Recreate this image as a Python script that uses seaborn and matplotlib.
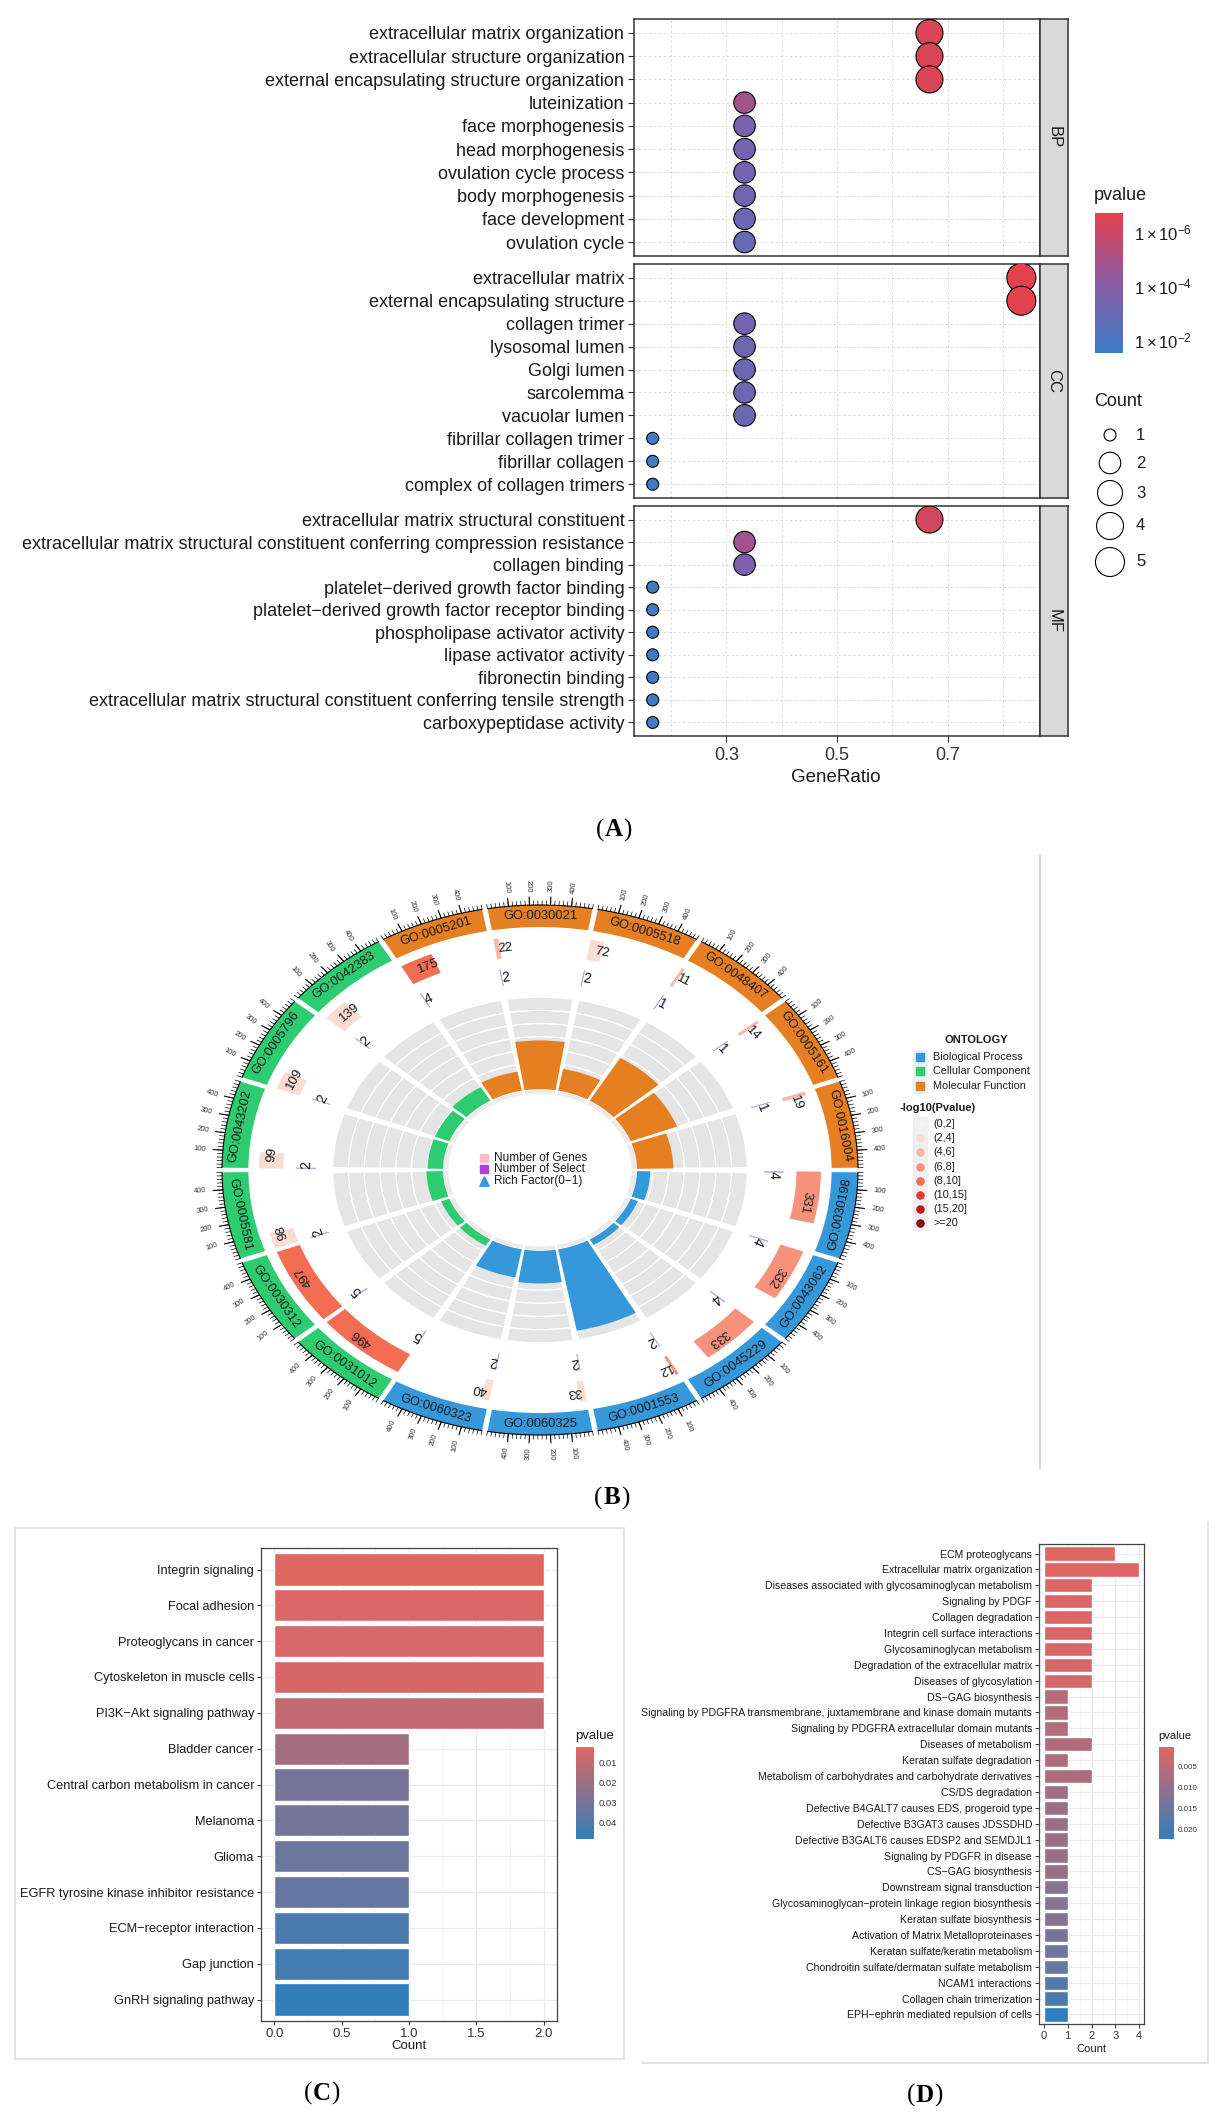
import numpy as np
import pandas as pd
import matplotlib
matplotlib.use("Agg")
import matplotlib.pyplot as plt
import seaborn as sns
from matplotlib.colors import LinearSegmentedColormap, Normalize
from matplotlib.cm import ScalarMappable
from matplotlib.patches import Rectangle

sns.set_style("white")
plt.rcParams["font.family"] = ["Liberation Sans", "DejaVu Sans"]
plt.rcParams["mathtext.fontset"] = "custom"
plt.rcParams["mathtext.rm"] = "Liberation Sans"
plt.rcParams["mathtext.it"] = "Liberation Sans:italic"

W, H = 1221, 2117

# ---------------- data: panel A (GO dotplot) ----------------
bp_terms = ["extracellular matrix organization", "extracellular structure organization",
            "external encapsulating structure organization", "luteinization", "face morphogenesis",
            "head morphogenesis", "ovulation cycle process", "body morphogenesis",
            "face development", "ovulation cycle"]
bp_ratio = [0.667, 0.667, 0.667, 0.333, 0.333, 0.333, 0.333, 0.333, 0.333, 0.333]
bp_count = [4, 4, 4, 2, 2, 2, 2, 2, 2, 2]
bp_p = [4e-7, 4e-7, 4e-7, 1.5e-5, 2.5e-4, 3.5e-4, 4.5e-4, 5.5e-4, 8e-4, 1.2e-3]

cc_terms = ["extracellular matrix", "external encapsulating structure", "collagen trimer",
            "lysosomal lumen", "Golgi lumen", "sarcolemma", "vacuolar lumen",
            "fibrillar collagen trimer", "fibrillar collagen", "complex of collagen trimers"]
cc_ratio = [0.833, 0.833, 0.333, 0.333, 0.333, 0.333, 0.333, 0.167, 0.167, 0.167]
cc_count = [5, 5, 2, 2, 2, 2, 2, 1, 1, 1]
cc_p = [2e-7, 2e-7, 3.5e-4, 6e-4, 7e-4, 8e-4, 1e-3, 0.02, 0.02, 0.022]

mf_terms = ["extracellular matrix structural constituent",
            "extracellular matrix structural constituent conferring compression resistance",
            "collagen binding", "platelet\u2212derived growth factor binding",
            "platelet\u2212derived growth factor receptor binding", "phospholipase activator activity",
            "lipase activator activity", "fibronectin binding",
            "extracellular matrix structural constituent conferring tensile strength",
            "carboxypeptidase activity"]
mf_ratio = [0.667, 0.333, 0.333, 0.167, 0.167, 0.167, 0.167, 0.167, 0.167, 0.167]
mf_count = [4, 2, 2, 1, 1, 1, 1, 1, 1, 1]
mf_p = [8e-7, 2e-5, 2.5e-4, 0.02, 0.02, 0.021, 0.021, 0.022, 0.023, 0.024]

count_levels = [1, 2, 3, 4, 5]

# ---------------- data: panel B (GO circle) ----------------
go_ids = ["GO:0030198", "GO:0043062", "GO:0045229", "GO:0001553", "GO:0060325", "GO:0060323",
          "GO:0031012", "GO:0030312", "GO:0005581", "GO:0043202", "GO:0005796", "GO:0042383",
          "GO:0005201", "GO:0030021", "GO:0005518", "GO:0048407", "GO:0005161", "GO:0016004"]
go_onto = ["BP"] * 6 + ["CC"] * 6 + ["MF"] * 6
gene_num = [331, 332, 333, 12, 33, 40, 496, 497, 98, 99, 109, 139, 175, 22, 72, 11, 14, 19]
select_num = [4, 4, 4, 2, 2, 2, 5, 5, 2, 2, 2, 2, 4, 2, 2, 1, 1, 1]
gene_level = [3, 3, 3, 3, 1, 1, 4, 4, 1, 1, 1, 1, 4, 2, 1, 2, 2, 2]
rich_track = [0.12, 0.07, 0.07, 0.90, 0.355, 0.31, 0.08, 0.08, 0.15, 0.14, 0.14, 0.17,
              0.21, 0.53, 0.24, 0.54, 0.45, 0.33]
ruler_ticks = [100, 200, 300, 400]
logp_levels = ["(0,2]", "(2,4]", "(4,6]", "(6,8]", "(8,10]", "(10,15]", "(15,20]", ">=20"]
logp_colors = ["#F3F3F3", "#FBDCD2", "#F9B7AA", "#F6917B", "#F36D52", "#E8372D", "#C4161C", "#8B0A0F"]
onto_names = ["Biological Process", "Cellular Component", "Molecular Function"]

# ---------------- data: panel C (KEGG bar) ----------------
c_terms = ["Integrin signaling", "Focal adhesion", "Proteoglycans in cancer",
           "Cytoskeleton in muscle cells", "PI3K\u2212Akt signaling pathway", "Bladder cancer",
           "Central carbon metabolism in cancer", "Melanoma", "Glioma",
           "EGFR tyrosine kinase inhibitor resistance", "ECM\u2212receptor interaction",
           "Gap junction", "GnRH signaling pathway"]
c_count = [2, 2, 2, 2, 2, 1, 1, 1, 1, 1, 1, 1, 1]
c_p = [0.0025, 0.004, 0.0045, 0.005, 0.0105, 0.018, 0.030, 0.031, 0.033, 0.035, 0.042, 0.044, 0.0485]

# ---------------- data: panel D (Reactome bar) ----------------
d_terms = ["ECM proteoglycans", "Extracellular matrix organization",
           "Diseases associated with glycosaminoglycan metabolism", "Signaling by PDGF",
           "Collagen degradation", "Integrin cell surface interactions",
           "Glycosaminoglycan metabolism", "Degradation of the extracellular matrix",
           "Diseases of glycosylation", "DS\u2212GAG biosynthesis",
           "Signaling by PDGFRA transmembrane, juxtamembrane and kinase domain mutants",
           "Signaling by PDGFRA extracellular domain mutants", "Diseases of metabolism",
           "Keratan sulfate degradation", "Metabolism of carbohydrates and carbohydrate derivatives",
           "CS/DS degradation", "Defective B4GALT7 causes EDS, progeroid type",
           "Defective B3GAT3 causes JDSSDHD", "Defective B3GALT6 causes EDSP2 and SEMDJL1",
           "Signaling by PDGFR in disease", "CS\u2212GAG biosynthesis",
           "Downstream signal transduction",
           "Glycosaminoglycan\u2212protein linkage region biosynthesis",
           "Keratan sulfate biosynthesis", "Activation of Matrix Metalloproteinases",
           "Keratan sulfate/keratin metabolism", "Chondroitin sulfate/dermatan sulfate metabolism",
           "NCAM1 interactions", "Collagen chain trimerization",
           "EPH\u2212ephrin mediated repulsion of cells"]
d_count = [3, 4, 2, 2, 2, 2, 2, 2, 2, 1, 1, 1, 2, 1, 2, 1, 1, 1, 1, 1, 1, 1, 1, 1, 1, 1, 1, 1, 1, 1]
d_p = [0.0002, 0.0005, 0.001, 0.0012, 0.0013, 0.0015, 0.0018, 0.002, 0.002, 0.0055,
       0.0058, 0.006, 0.0062, 0.0065, 0.007, 0.0085, 0.0088, 0.009, 0.009, 0.0092,
       0.0095, 0.0115, 0.0118, 0.012, 0.0135, 0.0145, 0.0155, 0.018, 0.019, 0.0224]

# ---------------- figure helpers ----------------
fig = plt.figure(figsize=(W / 100, H / 100), dpi=100)
fig.patch.set_facecolor("white")


def px_axes(l, t, r, b, **kw):
    return fig.add_axes([l / W, 1 - b / H, (r - l) / W, (b - t) / H], **kw)


ov = fig.add_axes([0, 0, 1, 1], zorder=5)
ov.set_xlim(0, W)
ov.set_ylim(H, 0)
ov.set_axis_off()
ov.patch.set_visible(False)

DARK = "#1A1A1A"

# ================= panel A =================
cmap_a = LinearSegmentedColormap.from_list("a", ["#3D7CC6", "#8A5AA4", "#E4414E"])
norm_a = Normalize(1.52, 6.7)
size_map = {1: 74, 2: 240, 3: 324, 4: 378, 5: 436}

facets = [("BP", bp_terms, bp_ratio, bp_count, bp_p, 19, 256),
          ("CC", cc_terms, cc_ratio, cc_count, cc_p, 264, 498),
          ("MF", mf_terms, mf_ratio, mf_count, mf_p, 506, 736)]
for k, (name, terms, ratio, count, pv, top, bot) in enumerate(facets):
    ax = px_axes(634, top, 1040, bot)
    d = pd.DataFrame({"term": terms, "GeneRatio": ratio, "Count": count,
                      "logp": -np.log10(pv)})
    sns.scatterplot(data=d, x="GeneRatio", y="term", hue="logp", hue_norm=norm_a,
                    palette=cmap_a, size="Count", sizes=size_map, edgecolor="black",
                    linewidth=0.8, legend=False, ax=ax, zorder=3)
    ax.set_xlim(0.1333, 0.8667)
    ax.set_ylim(len(terms) - 0.4, -0.6)
    ax.set_xticks([0.3, 0.5, 0.7])
    ax.set_xticks([0.2, 0.4, 0.6, 0.8], minor=True)
    ax.set_xticklabels(["0.3", "0.5", "0.7"])
    ax.set_axisbelow(True)
    ax.grid(True, which="major", color="#DADADA", ls=(0, (2.5, 2.5)), lw=0.7)
    ax.grid(True, which="minor", axis="x", color="#DADADA", ls=(0, (2.5, 2.5)), lw=0.7)
    ax.set_xlabel("")
    ax.set_ylabel("")
    ax.tick_params(axis="y", length=4.5, width=0.8, color="#333333", labelsize=13,
                   labelcolor=DARK, pad=2.5, left=True)
    ax.tick_params(axis="x", which="major", length=4.5, width=0.8, color="#333333",
                   labelsize=13, labelcolor="#333333", bottom=(k == 2), labelbottom=(k == 2))
    ax.tick_params(axis="x", which="minor", length=0)
    for s in ax.spines.values():
        s.set_color("#333333")
        s.set_linewidth(1.1)
    sx = px_axes(1040, top, 1068, bot)
    sx.set_facecolor("#D9D9D9")
    sx.set_xticks([])
    sx.set_yticks([])
    sx.text(0.5, 0.5, name, rotation=-90, ha="center", va="center", fontsize=12,
            color=DARK, transform=sx.transAxes)
    for s in sx.spines.values():
        s.set_color("#333333")
        s.set_linewidth(1.1)

fig.text(836 / W, 1 - 777 / H, "GeneRatio", ha="center", va="center", fontsize=13.5, color=DARK)

cax_a = px_axes(1095, 213, 1123, 353)
cb_a = fig.colorbar(ScalarMappable(norm=norm_a, cmap=cmap_a), cax=cax_a)
cb_a.outline.set_visible(False)
cb_a.set_ticks([6, 4, 2])
cb_a.set_ticklabels([r"$1\times10^{-6}$", r"$1\times10^{-4}$", r"$1\times10^{-2}$"])
cax_a.tick_params(colors="white", direction="in", length=5, width=1, labelsize=12,
                  labelcolor=DARK, pad=8)
ov.text(1094, 195, "pvalue", fontsize=13, ha="left", va="center", color=DARK)
ov.text(1094, 402, "Count", fontsize=13, ha="left", va="center", color=DARK)
leg_y = [435, 463, 493, 526, 562]
ov.scatter([1110] * 5, leg_y, s=[size_map[c] for c in count_levels], facecolor="white",
           edgecolor="black", linewidth=0.8)
for c, y in zip(count_levels, leg_y):
    ov.text(1136, y, str(c), fontsize=12, ha="left", va="center", color=DARK)

# ================= panel B =================
KX, KY = 318, 265
RB = 1.16
axb = px_axes(540 - KX * RB, 1170 - KY * RB, 540 + KX * RB, 1170 + KY * RB, projection="polar")
axb.set_aspect("auto")
axb.set_ylim(0, RB)
axb.set_axis_off()
axb.patch.set_alpha(0)

onto_col = {"BP": "#3498DB", "CC": "#2ECC71", "MF": "#E67E22"}
sec = 360.0 / len(go_ids)
gap = 0.5
span = sec - 2 * gap
xmax = 500.0
r0, r1 = 0.305, 0.652
depth = r1 - r0
nband = 7


def sec_theta(i, v):
    return np.deg2rad(-sec * i - gap - v / xmax * span)


def tang(th):
    a = np.degrees(np.arctan2(KY * np.cos(th), -KX * np.sin(th))) - 180
    return (a + 180) % 360 - 180


def radial(th):
    a = np.degrees(np.arctan2(np.sin(th) / KY, np.cos(th) / KX))
    if np.cos(th) < 0:
        a -= 180
    return a


for i, gid in enumerate(go_ids):
    col = onto_col[go_onto[i]]
    th0, th1 = sec_theta(i, 0), sec_theta(i, xmax)
    thc = (th0 + th1) / 2
    axb.bar(thc, 0.083, width=abs(th1 - th0), bottom=0.917, color=col, edgecolor="none")
    rot = tang(thc) + (180 if np.sin(thc) < 0 else 0)
    axb.text(thc, 0.958, gid, rotation=rot, rotation_mode="anchor", ha="center",
             va="center", fontsize=9.3, color=DARK)
    tt = np.linspace(th0, th1, 60)
    axb.plot(tt, np.full_like(tt, 1.0), color="black", lw=0.8)
    axb.vlines([sec_theta(i, v) for v in range(0, 501, 20)], 1.0, 1.017, color="black", lw=0.5)
    majors = [sec_theta(i, v) for v in ruler_ticks]
    axb.vlines(majors, 1.0, 1.032, color="black", lw=0.8)
    for v, th in zip(ruler_ticks, majors):
        axb.text(th, 1.072, str(v), rotation=radial(th), rotation_mode="anchor",
                 ha="center", va="center", fontsize=5.5, color="#333333")
    # number of genes
    g1 = sec_theta(i, gene_num[i])
    gcol = logp_colors[gene_level[i]]
    axb.bar((th0 + g1) / 2, 0.074, width=abs(g1 - th0), bottom=0.808, color=gcol,
            edgecolor=gcol, lw=0.6)
    tl = (th0 + g1) / 2 - np.deg2rad(1.6)
    axb.text(tl, 0.845, str(gene_num[i]), rotation=tang(tl), rotation_mode="anchor",
             ha="center", va="center", fontsize=9.5, color=DARK)
    # number of select
    s1 = sec_theta(i, select_num[i])
    axb.bar((th0 + s1) / 2, 0.06, width=abs(s1 - th0), bottom=0.705, color="#B4ACE6",
            edgecolor="#B4ACE6", lw=0.5)
    ts = th0 - np.deg2rad(1.0)
    axb.text(ts, 0.735, str(select_num[i]), rotation=tang(ts), rotation_mode="anchor",
             ha="center", va="center", fontsize=10, color=DARK)
    # rich factor track
    t0 = np.deg2rad(-sec * i - 0.8)
    t1 = np.deg2rad(-sec * (i + 1) + 0.8)
    tc, tw = (t0 + t1) / 2, abs(t1 - t0)
    axb.bar(tc, 0.017, width=tw, bottom=0.288, color="#EBEBEB", edgecolor="none")
    axb.bar([tc] * nband, [depth / nband] * nband, width=tw,
            bottom=r0 + np.arange(nband) * depth / nband, color="#E5E5E5",
            edgecolor="white", lw=0.9)
    axb.bar(tc, rich_track[i] * depth, width=tw, bottom=r0, color=col, edgecolor="none")

# inner legend
ov.scatter([484], [1158], marker="s", s=40, color="#F7BCCD")
ov.scatter([484], [1169], marker="s", s=40, color="#B23FD4")
ov.scatter([484], [1181], marker="^", s=45, color="#3498DB")
for y, t in zip([1158, 1169, 1181], ["Number of Genes", "Number of Select", "Rich Factor(0\u22121)"]):
    ov.text(494, y, t, fontsize=8.5, ha="left", va="center", color=DARK)

# right legend
ov.text(976, 1040, "ONTOLOGY", fontsize=8, fontweight="bold", ha="center", va="center", color=DARK)
for y, t, o in zip([1057, 1071, 1086], onto_names, ["BP", "CC", "MF"]):
    ov.scatter([920], [y], marker="s", s=88, color="#EFEFEF")
    ov.scatter([920], [y], marker="s", s=30, color=onto_col[o])
    ov.text(933, y, t, fontsize=7.8, ha="left", va="center", color=DARK)
ov.text(900, 1108, "-log10(Pvalue)", fontsize=8, fontweight="bold", ha="left", va="center", color=DARK)
for k, (t, c) in enumerate(zip(logp_levels, logp_colors)):
    y = 1124 + 14.2 * k
    ov.scatter([920], [y], marker="s", s=88, color="#EFEFEF")
    ov.scatter([920], [y], marker="o", s=26, color=c)
    ov.text(933, y, t, fontsize=7.8, ha="left", va="center", color=DARK)
ov.plot([1040, 1040], [855, 1468], color="#D4D4D4", lw=1.5)

# ================= panels C and D =================
cmap_cd = LinearSegmentedColormap.from_list("cd", ["#E06663", "#327EBA"])


def bar_panel(box, terms, counts, pv, norm, xlim, xticks, xtl, xminor, lab_size, tick_size,
              cbox, cticks, ctl, c_size, title_xy, count_xy):
    ax = px_axes(*box)
    dfp = pd.DataFrame({"Description": terms, "Count": counts, "p": pv})
    pal = {t: cmap_cd(norm(p)) for t, p in zip(terms, pv)}
    sns.barplot(data=dfp, x="Count", y="Description", hue="Description", palette=pal,
                legend=False, width=0.9, saturation=1, ax=ax, zorder=2)
    ax.set_xlim(*xlim)
    ax.set_ylim(len(terms) - 0.4, -0.6)
    ax.set_xticks(xticks)
    ax.set_xticklabels(xtl)
    ax.set_xticks(xminor, minor=True)
    ax.set_axisbelow(True)
    ax.grid(True, which="major", color="#EBEBEB", lw=0.9)
    ax.grid(True, which="minor", axis="x", color="#F2F2F2", lw=0.5)
    ax.set_xlabel("")
    ax.set_ylabel("")
    ax.tick_params(axis="both", which="major", length=3, width=0.7, color="#333333",
                   bottom=True, left=True, pad=2)
    ax.tick_params(axis="y", labelsize=lab_size, labelcolor=DARK)
    ax.tick_params(axis="x", labelsize=tick_size, labelcolor="#333333")
    ax.tick_params(which="minor", length=0)
    for s in ax.spines.values():
        s.set_color("#444444")
        s.set_linewidth(0.9)
    ov.text(count_xy[0], count_xy[1], "Count", fontsize=tick_size, ha="center", va="center",
            color=DARK)
    cax = px_axes(*cbox)
    cb = fig.colorbar(ScalarMappable(norm=norm, cmap=cmap_cd), cax=cax)
    cax.invert_yaxis()
    cb.outline.set_visible(False)
    cb.set_ticks(cticks)
    cb.set_ticklabels(ctl)
    cax.tick_params(colors="white", direction="in", length=3, width=0.8, labelsize=c_size,
                    labelcolor="#333333", pad=3)
    ov.text(title_xy[0], title_xy[1], "pvalue", fontsize=tick_size, ha="left", va="center",
            color=DARK)


bar_panel((261, 1548, 557, 2021), c_terms, c_count, c_p, Normalize(0.0025, 0.0485),
          (-0.1, 2.1), [0, 0.5, 1, 1.5, 2], ["0.0", "0.5", "1.0", "1.5", "2.0"],
          [0.25, 0.75, 1.25, 1.75], 9.2, 9.5,
          (576, 1747, 594, 1839), [0.01, 0.02, 0.03, 0.04], ["0.01", "0.02", "0.03", "0.04"],
          6.8, (575, 1736), (409, 2046))

bar_panel((1039, 1544, 1144, 2024), d_terms, d_count, d_p, Normalize(0.0002, 0.0224),
          (-0.2, 4.2), [0, 1, 2, 3, 4], ["0", "1", "2", "3", "4"],
          [0.5, 1.5, 2.5, 3.5], 7.6, 8,
          (1159, 1747, 1174, 1839), [0.005, 0.010, 0.015, 0.020],
          ["0.005", "0.010", "0.015", "0.020"], 5.8, (1158, 1736), (1091, 2049))

# light frames from the source layout
ov.add_patch(Rectangle((15, 1528), 609, 531, fill=False, edgecolor="#DDE0E8", lw=1.3))
ov.plot([642, 1208, 1208], [2063, 2063, 1522], color="#DDE0E8", lw=1.3)

# panel letters: regular parentheses, bold letter
for t, x, y in [("A", 614, 830), ("B", 612, 1498), ("C", 322, 2093), ("D", 925, 2095)]:
    ov.text(x, y, t, fontsize=18, fontweight="bold", family="Liberation Serif",
            ha="center", va="center", color="black")
    ov.text(x - 9.5, y, "(", fontsize=18, family="Liberation Serif", ha="right",
            va="center", color="black")
    ov.text(x + 9.5, y, ")", fontsize=18, family="Liberation Serif", ha="left",
            va="center", color="black")

fig.savefig("out.png", dpi=100)
